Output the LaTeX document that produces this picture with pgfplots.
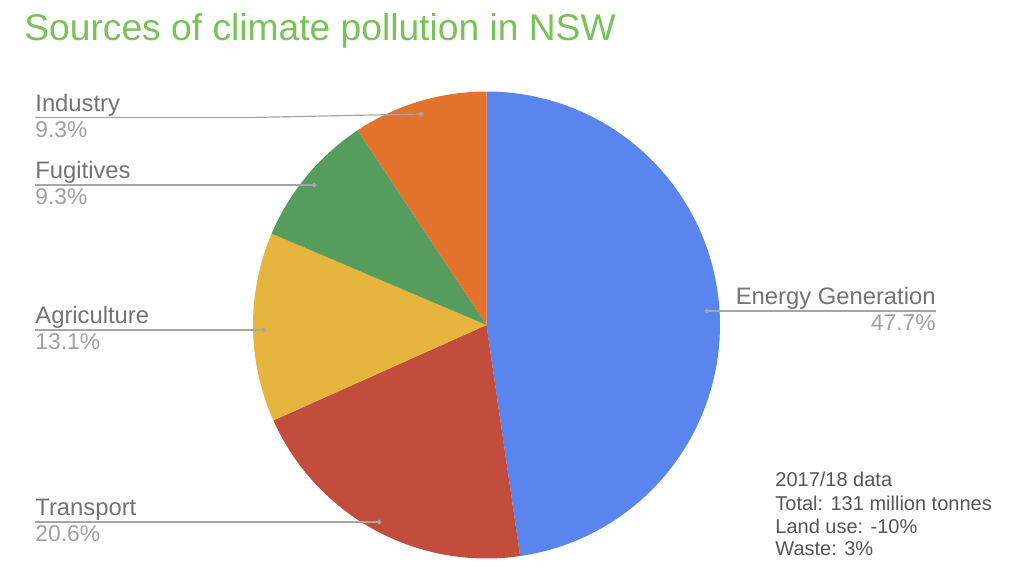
\documentclass[border=0pt]{standalone}
\usepackage{pgfplots}
\pgfplotsset{compat=1.18}
\usepackage{fontspec}
\setmainfont{Liberation Sans}

\definecolor{cEnergy}{HTML}{5A84EE}
\definecolor{cTransport}{HTML}{C24D3C}
\definecolor{cAgri}{HTML}{E5B53E}
\definecolor{cFug}{HTML}{569C5D}
\definecolor{cInd}{HTML}{E2722C}
\definecolor{titlegreen}{HTML}{78C257}
\definecolor{lblname}{HTML}{737373}
\definecolor{lblpct}{HTML}{A0A0A0}
\definecolor{leader}{HTML}{A6A6A6}
\definecolor{note}{HTML}{555555}

% shares in percent, clockwise from 12 o'clock
\def\pEnergy{47.7}
\def\pTransport{20.6}
\def\pAgri{13.1}
\def\pFug{9.3}
\def\pInd{9.3}

\begin{document}
\begin{tikzpicture}
% pie centre and radius in pixel units
\def\cx{486.5}
\def\cy{325}
\def\R{233.5}
\pgfmathsetmacro\aA{90}
\pgfmathsetmacro\aB{\aA-\pEnergy*3.6}
\pgfmathsetmacro\aC{\aB-\pTransport*3.6}
\pgfmathsetmacro\aD{\aC-\pAgri*3.6}
\pgfmathsetmacro\aE{\aD-\pFug*3.6}
\pgfmathsetmacro\aF{\aE-\pInd*3.6}
\begin{axis}[scale only axis,width=512pt,height=289pt,
  xmin=0,xmax=1024,ymin=0,ymax=578,y dir=reverse,hide axis,clip=false]
% keep the full canvas as bounding box
\path[draw=none] (axis cs:0,0) rectangle (axis cs:1024,578);
\addplot[fill=cEnergy,draw=none,domain=\aB:\aA,samples=120]
  ({\cx+\R*cos(x)},{\cy-\R*sin(x)}) -- (axis cs:\cx,\cy) -- cycle;
\addplot[fill=cTransport,draw=none,domain=\aC:\aB,samples=60]
  ({\cx+\R*cos(x)},{\cy-\R*sin(x)}) -- (axis cs:\cx,\cy) -- cycle;
\addplot[fill=cAgri,draw=none,domain=\aD:\aC,samples=40]
  ({\cx+\R*cos(x)},{\cy-\R*sin(x)}) -- (axis cs:\cx,\cy) -- cycle;
\addplot[fill=cFug,draw=none,domain=\aE:\aD,samples=30]
  ({\cx+\R*cos(x)},{\cy-\R*sin(x)}) -- (axis cs:\cx,\cy) -- cycle;
\addplot[fill=cInd,draw=none,domain=\aF:\aE,samples=30]
  ({\cx+\R*cos(x)},{\cy-\R*sin(x)}) -- (axis cs:\cx,\cy) -- cycle;

% leader lines
\addplot[leader,line width=0.6pt,mark=*,mark size=0.9pt,mark indices={3}] coordinates {(35,117.5)(250,117.5)(421,114)};
\addplot[leader,line width=0.6pt,mark=*,mark size=0.9pt,mark indices={2}] coordinates {(35,185)(314,185)};
\addplot[leader,line width=0.6pt,mark=*,mark size=0.9pt,mark indices={2}] coordinates {(35,330)(264,330)};
\addplot[leader,line width=0.6pt,mark=*,mark size=0.9pt,mark indices={2}] coordinates {(35,522)(379,522)};
\addplot[leader,line width=0.6pt,mark=*,mark size=0.9pt,mark indices={1}] coordinates {(707,311)(936,311)};

% labels
\tikzset{nm/.style={font=\fontsize{11.9}{13}\selectfont,text=lblname,inner sep=0pt},
         pc/.style={font=\fontsize{11.4}{13}\selectfont,text=lblpct,inner sep=0pt}}
\node[nm,anchor=base west] at (axis cs:35,111) {Industry};
\node[pc,anchor=base west] at (axis cs:35,137.5) {9.3\%};
\node[nm,anchor=base west] at (axis cs:35,178.5) {Fugitives};
\node[pc,anchor=base west] at (axis cs:35,204) {9.3\%};
\node[nm,anchor=base west] at (axis cs:35,323.5) {Agriculture};
\node[pc,anchor=base west] at (axis cs:35,349.5) {13.1\%};
\node[nm,anchor=base west] at (axis cs:35,515.5) {Transport};
\node[pc,anchor=base west] at (axis cs:35,541.5) {20.6\%};
\node[nm,anchor=base east] at (axis cs:936,304.5) {Energy Generation};
\node[pc,anchor=base east] at (axis cs:936,330.5) {47.7\%};

% title and note
\node[anchor=base west,inner sep=0pt,text=titlegreen,font=\fontsize{18.6}{21}\selectfont] at (axis cs:24,40) {Sources of climate pollution in NSW};
\tikzset{nt/.style={anchor=base west,inner sep=0pt,text=note,font=\fontsize{10}{12}\selectfont}}
\node[nt] at (axis cs:775,486.5) {2017/18 data};
\node[nt] at (axis cs:775,510) {Total: 131 million tonnes};
\node[nt] at (axis cs:775,533) {Land use: -10\%};
\node[nt] at (axis cs:775,555.5) {Waste: 3\%};
\end{axis}
\end{tikzpicture}
\end{document}
